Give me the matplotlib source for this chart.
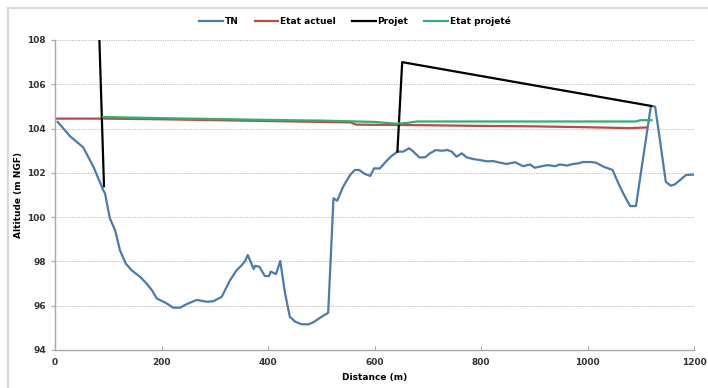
import numpy as np
import matplotlib
matplotlib.use("Agg")
import matplotlib.pyplot as plt
from matplotlib.lines import Line2D

# profil du terrain naturel (TN)
tn_x = [5, 28, 53, 72, 91, 94, 103, 113, 122, 133, 144, 160, 172, 182, 191, 210, 222, 235,
        247, 266, 285, 297, 313, 329, 341, 351, 357, 362, 373, 376, 384, 394, 402, 405, 415,
        423, 432, 441, 451, 463, 476, 485, 498, 513, 523, 530, 541, 554, 563, 571, 582, 592,
        599, 610, 623, 632, 643, 654, 665, 673, 684, 695, 704, 715, 726, 737, 745, 754, 764,
        773, 786, 798, 811, 823, 836, 848, 864, 879, 892, 901, 914, 926, 939, 948, 961, 973,
        983, 992, 1005, 1016, 1030, 1047, 1058, 1067, 1080, 1091, 1119, 1127, 1136, 1147,
        1156, 1164, 1174, 1185, 1198]
tn_y = [104.3, 103.66, 103.15, 102.28, 101.2, 101.07, 99.95, 99.4, 98.5, 97.9, 97.6, 97.3,
        97.0, 96.7, 96.33, 96.1, 95.91, 95.91, 96.07, 96.26, 96.18, 96.2, 96.4, 97.16, 97.6,
        97.84, 98.02, 98.29, 97.66, 97.8, 97.76, 97.34, 97.34, 97.54, 97.43, 98.02, 96.56,
        95.5, 95.28, 95.16, 95.16, 95.25, 95.46, 95.68, 100.85, 100.74, 101.37, 101.9, 102.13,
        102.13, 101.95, 101.86, 102.2, 102.2, 102.55, 102.76, 102.96, 102.96, 103.11, 102.96,
        102.7, 102.7, 102.88, 103.03, 103.0, 103.03, 102.96, 102.73, 102.88, 102.7, 102.62,
        102.58, 102.52, 102.53, 102.46, 102.4, 102.48, 102.3, 102.38, 102.23, 102.3, 102.35,
        102.3, 102.38, 102.33, 102.4, 102.43, 102.49, 102.49, 102.46, 102.28, 102.13, 101.53,
        101.08, 100.5, 100.5, 105.02, 104.99, 103.48, 101.6, 101.42, 101.48, 101.68, 101.9,
        101.92]

# état actuel
actuel_x = [0, 90, 200, 300, 400, 500, 555, 565, 600, 700, 800, 900, 1000, 1080, 1110]
actuel_y = [104.45, 104.45, 104.42, 104.38, 104.34, 104.3, 104.28, 104.18, 104.17, 104.15,
            104.12, 104.1, 104.06, 104.02, 104.05]

# projet (deux tronçons)
projet_x = [83, 92, np.nan, 643, 652, 1120]
projet_y = [108.3, 101.4, np.nan, 102.96, 107.0, 105.02]

# état projeté
projete_x = [90, 200, 300, 400, 500, 600, 640, 660, 680, 1090, 1100, 1120]
projete_y = [104.52, 104.47, 104.43, 104.39, 104.36, 104.3, 104.22, 104.25, 104.32, 104.32,
             104.38, 104.38]

x_ticks = [0, 200, 400, 600, 800, 1000, 1200]
y_ticks = [94, 96, 98, 100, 102, 104, 106, 108]


def main():
    fig = plt.figure(figsize=(7.08, 3.88), dpi=100)
    ax = fig.add_axes([55 / 708, 1 - 350 / 388, 639 / 708, 310 / 388])

    # cadre du graphique (bords haut et gauche seulement visibles)
    fx, fy = 7.5 / 708, 1 - 7.5 / 388
    fig.lines.append(Line2D([fx, 1.0], [fy, fy], transform=fig.transFigure,
                            color="#d9d9d9", lw=1.5))
    fig.lines.append(Line2D([fx, fx], [0.0, fy], transform=fig.transFigure,
                            color="#d9d9d9", lw=1.5))

    ax.plot(tn_x, tn_y, color="#4a7bab", lw=1.6, label="TN")
    ax.plot(actuel_x, actuel_y, color="#b84a47", lw=1.6, label="Etat actuel")
    ax.plot(projet_x, projet_y, color="black", lw=1.6, label="Projet")
    ax.plot(projete_x, projete_y, color="#2fae6e", lw=1.6, label="Etat projeté")

    ax.set_xlim(0, 1200)
    ax.set_ylim(94, 108)
    ax.set_xticks(x_ticks)
    ax.set_yticks(y_ticks)
    ax.yaxis.grid(True, linestyle=(0, (1.2, 1.2)), color="#bdbdbd", lw=0.7)
    ax.set_axisbelow(True)

    for s in ["top", "right"]:
        ax.spines[s].set_visible(False)
    for s in ["left", "bottom"]:
        ax.spines[s].set_color("#a8a8a8")
        ax.spines[s].set_linewidth(1)
    ax.tick_params(axis="both", colors="#a8a8a8", length=3, labelsize=6.5,
                   labelcolor="#333333")
    ax.tick_params(axis="x", direction="in", pad=6)
    for lbl in ax.get_xticklabels() + ax.get_yticklabels():
        lbl.set_fontweight("bold")

    ax.set_xlabel("Distance (m)", fontsize=6.5, fontweight="bold", labelpad=4)
    ax.set_ylabel("Altitude (m NGF)", fontsize=6.5, fontweight="bold", labelpad=3)

    leg = fig.legend(loc="center", bbox_to_anchor=(355 / 708, 1 - 21 / 388), ncol=4,
                     frameon=False, fontsize=6.5, handlelength=2.6, handletextpad=0.2,
                     columnspacing=1.8)
    for t in leg.get_texts():
        t.set_fontweight("bold")

    fig.savefig("out.png", dpi=100)


if __name__ == "__main__":
    main()
